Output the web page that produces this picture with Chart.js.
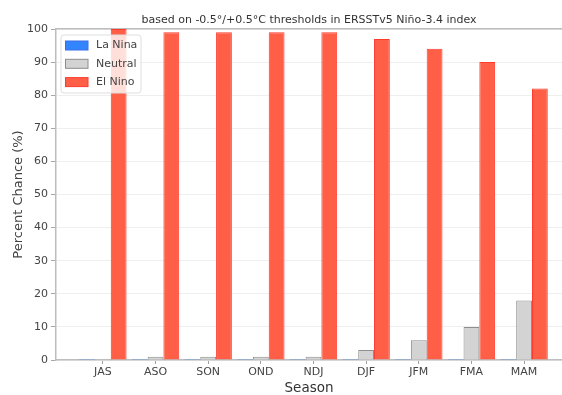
<!DOCTYPE html>
<html><head><meta charset="utf-8">
<script src="https://cdn.jsdelivr.net/npm/chart.js@4/dist/chart.umd.min.js"></script>
<style>html,body{margin:0;padding:0;background:#fff;overflow:hidden}</style>
</head><body>
<canvas id="c" width="562" height="395"></canvas>
<script>
const seasons = ['JAS','ASO','SON','OND','NDJ','DJF','JFM','FMA','MAM'];
const laNina  = [0, 0, 0, 0, 0, 0, 0, 0, 0];
const neutral = [0, 1, 1, 1, 1, 3, 6, 10, 18];
const elNino  = [100, 99, 99, 99, 99, 97, 94, 90, 82];
const seriesNames = ['La Nina', 'Neutral', 'El Nino'];
const titleText = 'based on -0.5°/+0.5°C thresholds in ERSSTv5 Niño-3.4 index';
const xTitle = 'Season';
const yTitle = 'Percent Chance (%)';

Chart.defaults.font.family = '"DejaVu Sans", sans-serif';

const toPoints = arr => arr.map((v, i) => ({x: i, y: v}));

const insideLegend = {
  id: 'insideLegend',
  afterDatasetsDraw(chart) {
    const {ctx, chartArea: a} = chart;
    const x = a.left + 5, y = a.top + 6, w = 80, h = 58, r = 3;
    ctx.save();
    ctx.beginPath();
    ctx.moveTo(x + r, y);
    ctx.arcTo(x + w, y, x + w, y + h, r);
    ctx.arcTo(x + w, y + h, x, y + h, r);
    ctx.arcTo(x, y + h, x, y, r);
    ctx.arcTo(x, y, x + w, y, r);
    ctx.closePath();
    ctx.fillStyle = 'rgba(255,255,255,0.8)';
    ctx.fill();
    ctx.strokeStyle = '#dedede';
    ctx.lineWidth = 1;
    ctx.stroke();
    chart.data.datasets.forEach((ds, i) => {
      const cy = y + 10.5 + i * 18.3;
      ctx.fillStyle = ds.backgroundColor;
      ctx.fillRect(x + 4.5, cy - 4.5, 22.5, 9);
      ctx.strokeStyle = ds.borderColor;
      ctx.lineWidth = 1;
      ctx.strokeRect(x + 4.5, cy - 4.5, 22.5, 9);
      ctx.fillStyle = '#444';
      ctx.font = '11px "DejaVu Sans"';
      ctx.textBaseline = 'middle';
      ctx.textAlign = 'left';
      ctx.fillText(ds.label, x + 35, cy);
    });
    ctx.restore();
  }
};

new Chart(document.getElementById('c'), {
  type: 'bar',
  data: {
    datasets: [
      {label: seriesNames[0], data: toPoints(laNina), backgroundColor: '#3385ff', borderColor: '#3a6ee8', borderWidth: 1, minBarLength: 1, xAxisID: 'x'},
      {label: seriesNames[1], data: toPoints(neutral), backgroundColor: '#d3d3d3', borderColor: '#8e8e8e', borderWidth: 1, xAxisID: 'x'},
      {label: seriesNames[2], data: toPoints(elNino), backgroundColor: '#ff5f46', borderColor: '#ff3b2e', borderWidth: 1, xAxisID: 'x'}
    ]
  },
  options: {
    responsive: false,
    animation: false,
    devicePixelRatio: 1,
    layout: {padding: 0},
    datasets: {bar: {categoryPercentage: 0.9, barPercentage: 1.0}},
    plugins: {legend: {display: false}, tooltip: {enabled: false}, title: {display: false}},
    scales: {
      x: {
        type: 'linear', position: 'bottom', min: -0.89, max: 8.72, offset: false,
        grid: {display: true, offset: false, drawOnChartArea: false, drawTicks: true, tickLength: 4, tickColor: '#a0a0a0'},
        border: {display: true, color: '#bdbdbd', width: 1.5},
        ticks: {stepSize: 1, includeBounds: false, autoSkip: false, maxRotation: 0, minRotation: 0, padding: 2, color: '#444', font: {size: 11},
                callback: v => (Number.isInteger(v) && seasons[v] !== undefined) ? seasons[v] : ''},
        afterBuildTicks: s => { s.ticks = seasons.map((_, i) => ({value: i})); },
        title: {display: true, text: xTitle, color: '#333', font: {size: 13.5, lineHeight: 1}, padding: {top: 0, bottom: 0}},
        afterFit: s => { s.height = 35; }
      },
      x2: {
        type: 'linear', position: 'top', min: -0.89, max: 8.72, offset: false,
        grid: {display: false, offset: false, drawTicks: false},
        border: {display: true, color: '#bdbdbd', width: 1.5},
        ticks: {display: false},
        title: {display: true, text: titleText, color: '#333', font: {size: 11}, padding: {top: 14, bottom: 0}},
        afterFit: s => { s.height = 29; }
      },
      y: {
        min: 0, max: 100,
        ticks: {stepSize: 10, color: '#444', font: {size: 11}, padding: 3},
        grid: {color: '#efefef', tickColor: '#a8a8a8', tickLength: 5},
        border: {display: true, color: '#bdbdbd', width: 1.5},
        title: {display: true, text: yTitle, color: '#444', font: {size: 13}, padding: {top: 11, bottom: 0}},
        afterFit: s => { s.width = 56; }
      }
    }
  },
  plugins: [insideLegend]
});
</script>
</body></html>
